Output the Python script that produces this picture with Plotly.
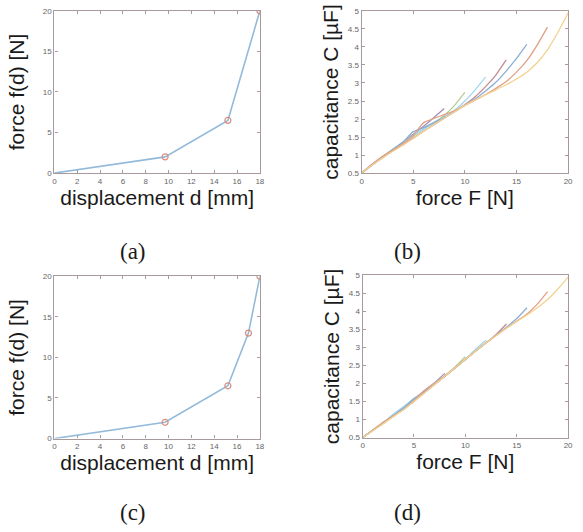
import plotly.graph_objects as go

# ---------------- data ----------------
# (a) force profile
disp_a = [0, 9.7, 15.2, 18]
force_a = [0, 2.0, 6.5, 20]
# (c) refined force profile
disp_c = [0, 9.7, 15.2, 17, 18]
force_c = [0, 2.0, 6.5, 13.0, 20]

# (b) capacitance vs force, one series per maximum force
F8 = [0, 1, 2, 3, 4, 5, 6, 7, 8]
F10 = [0, 1, 2, 3, 4, 5, 6, 7, 8, 9, 10]
F12 = [0, 1, 2, 3, 4, 5, 6, 7, 8, 9, 10, 11, 12]
F14 = [0, 1, 2, 3, 4, 5, 6, 7, 8, 9, 10, 11, 12, 13, 14]
F16 = [0, 1, 2, 3, 4, 5, 6, 7, 8, 9, 10, 11, 12, 13, 14, 15, 16]
F18 = [0, 1, 2, 3, 4, 5, 6, 7, 8, 9, 10, 11, 12, 13, 14, 15, 16, 17, 18]
F20 = [0, 1, 2, 3, 4, 5, 6, 7, 8, 9, 10, 11, 12, 13, 14, 15, 16, 17, 18, 19, 20]

Cb8 = [0.5, 0.74, 0.95, 1.15, 1.35, 1.58, 1.8, 2.04, 2.29]
Cb10 = [0.5, 0.73, 0.94, 1.16, 1.33, 1.52, 1.72, 1.9, 2.1, 2.38, 2.74]
Cb12 = [0.5, 0.72, 0.93, 1.16, 1.34, 1.55, 1.72, 1.88, 2.05, 2.24, 2.5, 2.81, 3.16]
Cb14 = [0.5, 0.72, 0.92, 1.12, 1.28, 1.47, 1.66, 1.84, 2.02, 2.2, 2.4, 2.62, 2.9, 3.22, 3.64]
Cb16 = [0.5, 0.73, 0.94, 1.15, 1.36, 1.65, 1.76, 1.9, 2.05, 2.2, 2.38, 2.56, 2.78, 3.02, 3.33, 3.68, 4.07]
Cb18 = [0.5, 0.74, 0.96, 1.13, 1.32, 1.55, 1.9, 2.02, 2.12, 2.23, 2.38, 2.52, 2.68, 2.85, 3.04, 3.3, 3.62, 4.05, 4.55]
Cb20 = [0.5, 0.72, 0.92, 1.1, 1.28, 1.46, 1.66, 1.85, 2.03, 2.2, 2.38, 2.53, 2.67, 2.81, 2.95, 3.11, 3.3, 3.56, 3.92, 4.4, 4.95]

# (d) capacitance vs force after refinement
Cd8 = [0.5, 0.7, 0.92, 1.12, 1.33, 1.56, 1.8, 2.02, 2.28]
Cd10 = [0.5, 0.71, 0.9, 1.13, 1.34, 1.58, 1.78, 2.0, 2.22, 2.46, 2.74]
Cd12 = [0.5, 0.7, 0.91, 1.15, 1.36, 1.58, 1.76, 1.98, 2.2, 2.43, 2.68, 2.95, 3.2]
Cd14 = [0.5, 0.7, 0.9, 1.1, 1.3, 1.5, 1.74, 1.97, 2.2, 2.43, 2.66, 2.9, 3.12, 3.36, 3.65]
Cd16 = [0.5, 0.7, 0.9, 1.12, 1.32, 1.58, 1.76, 1.98, 2.2, 2.43, 2.67, 2.9, 3.13, 3.34, 3.56, 3.8, 4.1]
Cd18 = [0.5, 0.71, 0.92, 1.1, 1.28, 1.52, 1.8, 2.0, 2.2, 2.44, 2.67, 2.9, 3.12, 3.33, 3.54, 3.73, 3.93, 4.2, 4.55]
Cd20 = [0.5, 0.69, 0.88, 1.08, 1.28, 1.5, 1.73, 1.97, 2.2, 2.43, 2.67, 2.9, 3.12, 3.33, 3.53, 3.72, 3.9, 4.1, 4.33, 4.62, 4.95]

series_F = [F8, F10, F12, F14, F16, F18, F20]
series_b = [Cb8, Cb10, Cb12, Cb14, Cb16, Cb18, Cb20]
series_d = [Cd8, Cd10, Cd12, Cd14, Cd16, Cd18, Cd20]
series_colors = ["#a98bb3", "#b3cf95", "#a3d8ef", "#c48a92", "#8aafd6", "#e1a085", "#f2d28f"]

ticks_disp = [0, 2, 4, 6, 8, 10, 12, 14, 16, 18]
ticks_force_y = [0, 5, 10, 15, 20]
ticks_force_x = [0, 5, 10, 15, 20]
ticks_cap = [0.5, 1, 1.5, 2, 2.5, 3, 3.5, 4, 4.5, 5]
ticks_cap_text = ["0.5", "1", "1.5", "2", "2.5", "3", "3.5", "4", "4.5", "5"]
captions = ["(a)", "(b)", "(c)", "(d)"]

# ---------------- figure ----------------
W, H = 583, 532
fig = go.Figure()

line_blue = "#93badb"
marker_col = "#d98c7c"

# panels a, c
for (xs, ys, xa, ya) in [(disp_a, force_a, "x", "y"), (disp_c, force_c, "x3", "y3")]:
    fig.add_trace(go.Scatter(x=xs, y=ys, mode="lines", xaxis=xa, yaxis=ya,
                             line=dict(color=line_blue, width=1.6), showlegend=False))
    fig.add_trace(go.Scatter(x=xs[1:], y=ys[1:], mode="markers", xaxis=xa, yaxis=ya,
                             marker=dict(symbol="circle-open", size=6, color=marker_col,
                                         line=dict(width=1.2, color=marker_col)),
                             showlegend=False))

# panels b, d
for (ser, xa, ya) in [(series_b, "x2", "y2"), (series_d, "x4", "y4")]:
    for fx, cy, col in zip(series_F, ser, series_colors):
        fig.add_trace(go.Scatter(x=fx, y=cy, mode="lines", xaxis=xa, yaxis=ya,
                                 line=dict(color=col, width=1.3, shape="spline", smoothing=0.3),
                                 showlegend=False))

def px_x(p):
    return p / W

def px_y(p):
    return 1 - p / H

frame = "#a8999a"
tickfont = dict(family="Liberation Sans, Arial", size=8, color="#666666")
titlefont = dict(family="Liberation Sans, Arial", size=21, color="#1a1a1a")

def axis(domain, rng, tickvals, ticktext=None, title=None, anchor=None, standoff=3):
    d = dict(domain=domain, range=rng, tickvals=tickvals, showgrid=False, zeroline=False,
             showline=True, linecolor=frame, linewidth=1.3, mirror="ticks",
             ticks="inside", ticklen=3, tickcolor=frame, tickwidth=1,
             tickfont=tickfont, anchor=anchor, fixedrange=True)
    if ticktext is not None:
        d["ticktext"] = ticktext
    if title is not None:
        d["title"] = dict(text=title, font=titlefont, standoff=standoff)
    return d

xa_dom = [px_x(53), px_x(261)]
xb_dom = [px_x(364), px_x(573)]
xd_dom = [px_x(365), px_x(573)]
ya_dom = [px_y(172), px_y(7)]
yc_dom = [px_y(442), px_y(277)]
yd_dom = [px_y(441), px_y(276)]

fig.update_layout(
    width=W, height=H, margin=dict(l=0, r=0, t=0, b=0),
    paper_bgcolor="white", plot_bgcolor="white", showlegend=False,
    xaxis=axis(xa_dom, [0, 18], ticks_disp, title="displacement d [mm]", anchor="y"),
    yaxis=axis(ya_dom, [0, 20], ticks_force_y, title="force f(d) [N]", anchor="x", standoff=12),
    xaxis2=axis(xb_dom, [0, 20], ticks_force_x, title="force F [N]", anchor="y2"),
    yaxis2=axis(ya_dom, [0.5, 5], ticks_cap, ticks_cap_text, title="capacitance C [µF]", anchor="x2", standoff=3),
    xaxis3=axis(xa_dom, [0, 18], ticks_disp, title="displacement d [mm]", anchor="y3"),
    yaxis3=axis(yc_dom, [0, 20], ticks_force_y, title="force f(d) [N]", anchor="x3", standoff=12),
    xaxis4=axis(xd_dom, [0, 20], ticks_force_x, title="force F [N]", anchor="y4"),
    yaxis4=axis(yd_dom, [0.5, 5], ticks_cap, ticks_cap_text, title="capacitance C [µF]", anchor="x4", standoff=3),
)

capfont = dict(family="Liberation Serif, Times New Roman, serif", size=23, color="#1a1a1a")
for txt, cx, cy in zip(captions, [133, 410, 133, 410], [252, 252, 517, 517]):
    fig.add_annotation(text=txt, x=px_x(cx), y=px_y(cy), xref="paper", yref="paper",
                       showarrow=False, font=capfont, xanchor="center", yanchor="middle")

fig.write_html("out.html", config={"displayModeBar": False},
               post_script="document.body.style.margin='0';")
